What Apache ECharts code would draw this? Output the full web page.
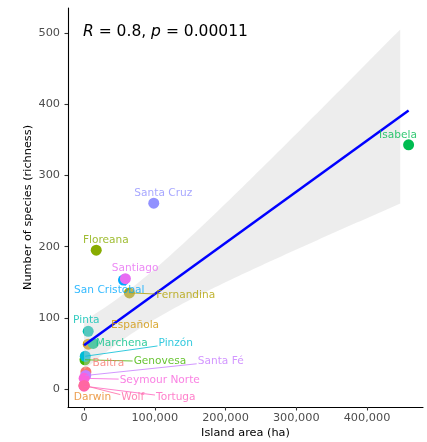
<!DOCTYPE html>
<html><head><meta charset="utf-8">
<script src="https://cdn.jsdelivr.net/npm/echarts@6/dist/echarts.min.js"></script>
<style>html,body{margin:0;padding:0;background:#fff}#c{width:427px;height:442px}</style>
</head><body><div id="c"></div>
<script>
// ---- data ----
const islands = ['Baltra','Darwin','Española','Fernandina','Floreana','Genovesa','Isabela','Marchena','Pinta','Pinzón','San Cristóbal','Santa Cruz','Santa Fé','Santiago','Seymour Norte','Tortuga','Wolf'];
const areaHa = [2700,110,6000,64200,17300,1400,458800,13000,5940,1800,55800,98600,2400,58500,190,100,130];
const richness = [24,5,63,135,195,41,343,64,81,46,153,261,19,155,15,4,5];
const xTicks = [0,100000,200000,300000,400000];
const yTicks = [0,100,200,300,400,500];
const bandRange = [100, 447000];   // x extent of the confidence ribbon as drawn in the reference
const statR = '0.8';
const statP = '0.00011';

// ---- styles / layout ----
const hues = [15,36,57,78.5,100,121,142,163,184,206,240,266,285,303,320,338,352];
const labelOffsets = {
  'Baltra':[22.4,-8.6],'Darwin':[8.4,12.3],'Española':[46.8,-18.8],'Fernandina':[56.3,2.4],
  'Floreana':[9.6,-10.2],'Genovesa':[75,1.9],'Isabela':[-10.6,-9.8],'Marchena':[28.5,-0.1],
  'Pinta':[-1.9,-11.3],'Pinzón':[90.5,-12.9],'San Cristóbal':[-14.2,10.2],'Santa Cruz':[9.6,-9.9],
  'Santa Fé':[135,-14.2],'Santiago':[9.8,-10.3],'Seymour Norte':[75.6,1.7],'Tortuga':[91.7,11.5],'Wolf':[48.7,12.3]
};
const withSegment = ['Fernandina','Genovesa','Pinzón','Santa Fé','Seymour Norte','Wolf','Tortuga'];
const FONT = '"DejaVu Sans", sans-serif';
const LABEL_SIZE = 10.6;

function hcl(h, c, l) {
  const hr = h * Math.PI / 180, U = c * Math.cos(hr), V = c * Math.sin(hr);
  const Xn = 95.047, Yn = 100, Zn = 108.883;
  const den = Xn + 15 * Yn + 3 * Zn, un = 4 * Xn / den, vn = 9 * Yn / den;
  const Y = l > 8 ? Yn * Math.pow((l + 16) / 116, 3) : Yn * l / 903.3;
  const u = U / (13 * l) + un, v = V / (13 * l) + vn;
  const X = 9 * Y * u / (4 * v), Z = -X / 3 - 5 * Y + 3 * Y / v;
  const x = X / 100, y = Y / 100, z = Z / 100;
  let r = 3.2404542 * x - 1.5371385 * y - 0.4985314 * z;
  let g = -0.9692660 * x + 1.8760108 * y + 0.0415560 * z;
  let b = 0.0556434 * x - 0.2040259 * y + 1.0572252 * z;
  const gam = t => { t = t <= 0.0031308 ? 12.92 * t : 1.055 * Math.pow(Math.max(t, 0), 1 / 2.4) - 0.055; return Math.round(Math.min(1, Math.max(0, t)) * 255); };
  return 'rgb(' + gam(r) + ',' + gam(g) + ',' + gam(b) + ')';
}
const colors = hues.map(h => hcl(h, 100, 65));

// ---- regression + 95% CI ----
const n = areaHa.length;
const mx = areaHa.reduce((s, v) => s + v, 0) / n;
const my = richness.reduce((s, v) => s + v, 0) / n;
let sxx = 0, sxy = 0, syy = 0;
for (let i = 0; i < n; i++) { const dx = areaHa[i] - mx, dy = richness[i] - my; sxx += dx * dx; sxy += dx * dy; syy += dy * dy; }
const slope = sxy / sxx, icpt = my - slope * mx;
const sres = Math.sqrt((syy - slope * sxy) / (n - 2));
const tq = 2.131;
const xmin = Math.min(...areaHa), xmax = Math.max(...areaHa);
const bandData = [];
for (let k = 0; k <= 80; k++) {
  const x = bandRange[0] + (bandRange[1] - bandRange[0]) * k / 80;
  const fit = icpt + slope * x;
  const se = sres * Math.sqrt(1 / n + (x - mx) * (x - mx) / sxx);
  bandData.push([x, fit - tq * se, fit + tq * se]);
}
const lineData = [[xmin, icpt + slope * xmin], [xmax, icpt + slope * xmax]];

const pointData = islands.map((nm, i) => ({ name: nm, value: [areaHa[i], richness[i]], itemStyle: { color: colors[i] } }));
const labelData = islands.map((nm, i) => ({
  name: nm, value: [areaHa[i], richness[i]],
  label: { offset: labelOffsets[nm], color: colors[i] }
}));

const chart = echarts.init(document.getElementById('c'), null, { renderer: 'canvas' });
const axisFont = { color: '#4D4D4D', fontSize: 11.3, fontFamily: FONT };
chart.setOption({
  animation: false,
  backgroundColor: '#fff',
  title: {
    text: '{i|R} = ' + statR + ', {i|p} = ' + statP,
    left: 83, top: 23, padding: 0,
    textStyle: { color: '#000', fontSize: 15.5, fontWeight: 'normal', fontFamily: FONT, lineHeight: 18,
      rich: { i: { fontStyle: 'italic', fontSize: 15.5, fontFamily: FONT, color: '#000', lineHeight: 18 } } }
  },
  grid: { left: 68, right: 4, top: 8, bottom: 35, containLabel: false, outerBoundsMode: 'none' },
  xAxis: {
    type: 'value', min: -22615, max: 479150,
    axisLine: { show: true, onZero: false, lineStyle: { color: '#000', width: 1.1 } },
    axisTick: { show: true, length: 3.5, customValues: xTicks, lineStyle: { color: '#333', width: 1.1 } },
    axisLabel: Object.assign({ customValues: xTicks, margin: 6, formatter: v => v.toLocaleString('en-US') }, axisFont),
    splitLine: { show: false },
    name: 'Island area (ha)', nameLocation: 'middle', nameGap: 21, nameMoveOverlap: false,
    nameTextStyle: { color: '#000', fontSize: 11.3, fontFamily: FONT }
  },
  yAxis: {
    type: 'value', min: -25.28, max: 535.1,
    axisLine: { show: true, onZero: false, lineStyle: { color: '#000', width: 1.1 } },
    axisTick: { show: true, length: 3.5, customValues: yTicks, lineStyle: { color: '#333', width: 1.1 } },
    axisLabel: Object.assign({ customValues: yTicks, margin: 8 }, axisFont),
    splitLine: { show: false },
    name: 'Number of species (richness)', nameLocation: 'middle', nameGap: 34, nameMoveOverlap: false,
    nameTextStyle: { color: '#000', fontSize: 11.3, fontFamily: FONT }
  },
  series: [
    { type: 'scatter', data: pointData, symbolSize: 11, z: 2, silent: true, itemStyle: { opacity: 1 } },
    { type: 'custom', data: bandData, z: 3, silent: true, encode: { x: 0, y: [1, 2] },
      renderItem: function (params, api) {
        if (params.dataIndex !== 0) return;
        const up = [], dn = [];
        for (const d of bandData) { up.push(api.coord([d[0], d[2]])); dn.push(api.coord([d[0], d[1]])); }
        return { type: 'polygon', shape: { points: up.concat(dn.reverse()) }, style: { fill: 'rgba(211,211,211,0.4)' } };
      } },
    { type: 'line', data: lineData, symbol: 'none', z: 4, silent: true, lineStyle: { color: '#0000FF', width: 2.5 } },
    { type: 'scatter', data: labelData, symbolSize: 1, z: 6, silent: true,
      itemStyle: { color: 'rgba(0,0,0,0)' },
      label: { show: true, formatter: '{b}', position: 'inside', fontSize: LABEL_SIZE, fontFamily: FONT } }
  ]
});

// ---- ggrepel-style segments ----
const ctx = document.createElement('canvas').getContext('2d');
ctx.font = LABEL_SIZE + 'px ' + FONT;
const segs = [];
islands.forEach((nm, i) => {
  if (withSegment.indexOf(nm) < 0) return;
  const p = chart.convertToPixel({ seriesIndex: 0 }, [areaHa[i], richness[i]]);
  const off = labelOffsets[nm];
  const cx = p[0] + off[0], cy = p[1] + off[1];
  const hw = ctx.measureText(nm).width / 2 + 1, hh = 6;
  const dx = cx - p[0], dy = cy - p[1];
  const t = Math.min(Math.abs(dx) > 0 ? hw / Math.abs(dx) : Infinity, Math.abs(dy) > 0 ? hh / Math.abs(dy) : Infinity);
  segs.push({ type: 'line', z: 5, silent: true,
    shape: { x1: p[0], y1: p[1], x2: cx - t * dx, y2: cy - t * dy },
    style: { stroke: colors[i], lineWidth: 0.8 } });
});
chart.setOption({ graphic: segs });
</script></body></html>
